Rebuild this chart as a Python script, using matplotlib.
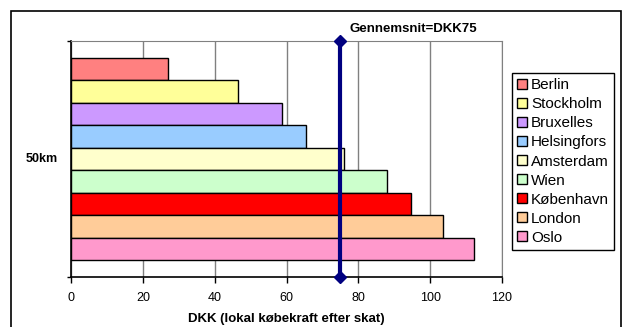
import matplotlib
matplotlib.use("Agg")
import matplotlib.pyplot as plt
from matplotlib.patches import Patch, Rectangle

plt.rcParams['font.family'] = ['Liberation Sans', 'DejaVu Sans']

cities = ['Berlin', 'Stockholm', 'Bruxelles', 'Helsingfors', 'Amsterdam',
          'Wien', 'København', 'London', 'Oslo']
values = [27.0, 46.5, 58.7, 65.5, 76.1, 87.9, 94.8, 103.7, 112.1]
colors = ['#FF8080', '#FFFF99', '#CC99FF', '#99CCFF', '#FFFFCC',
          '#CCFFCC', '#FF0000', '#FFCC99', '#FF99CC']
average = 75
category = '50km'

W, H = 627, 327
fig = plt.figure(figsize=(W / 100, H / 100), dpi=100)
ax = fig.add_axes([71 / W, 1 - 277 / H, (502 - 71) / W, (277 - 41) / H])

pos = list(range(len(cities)))
ax.barh(pos, values, height=1.0, color=colors, edgecolor='black',
        linewidth=1, zorder=2)

ymin, ymax = -1.245, len(cities) - 1 + 1.245
ax.set_ylim(ymax, ymin)
ax.set_xlim(0, 120)

# average line with diamond ends
ax.plot([average, average], [ymin, ymax], color='#000080', lw=3,
        marker='D', markersize=6, clip_on=False, zorder=4)

ax.set_xticks(range(0, 121, 20))
ax.grid(axis='x', color='#808080', lw=1, zorder=0)
ax.set_yticks([ymin, ymax])
ax.set_yticklabels([])
ax.tick_params(axis='y', direction='out', length=3, width=1)
ax.tick_params(axis='x', direction='out', length=4, width=1, pad=7,
               labelsize=9)
for s in ['top', 'right']:
    ax.spines[s].set_color('#808080')
for s in ['left', 'bottom']:
    ax.spines[s].set_color('black')
    ax.spines[s].set_linewidth(1.2)

fig.text(42 / W, 1 - 159 / H, category, ha='center', va='center',
         fontsize=9, fontweight='bold')
fig.text(286.5 / W, 1 - 319 / H, 'DKK (lokal købekraft efter skat)',
         ha='center', va='center', fontsize=9.5, fontweight='bold')
fig.text(350 / W, 1 - 29 / H, 'Gennemsnit=DKK75', ha='left', va='center',
         fontsize=9.5, fontweight='bold')

handles = [Patch(facecolor=c, edgecolor='black', lw=1) for c in colors]
leg = fig.legend(handles, cities, loc='upper left',
                 bbox_to_anchor=(512 / W, 1 - 73 / H), fontsize=11,
                 handlelength=0.6, handleheight=0.6, handletextpad=0.3,
                 labelspacing=0.33, borderpad=0.35, borderaxespad=0,
                 fancybox=False, framealpha=1, edgecolor='black')
leg.get_frame().set_linewidth(1)

fig.add_artist(Rectangle((11 / W, -0.05), 610 / W, 1 - 11 / H + 0.05,
                         transform=fig.transFigure, fill=False,
                         edgecolor='black', lw=1.2))

fig.savefig('out.png', dpi=100)
